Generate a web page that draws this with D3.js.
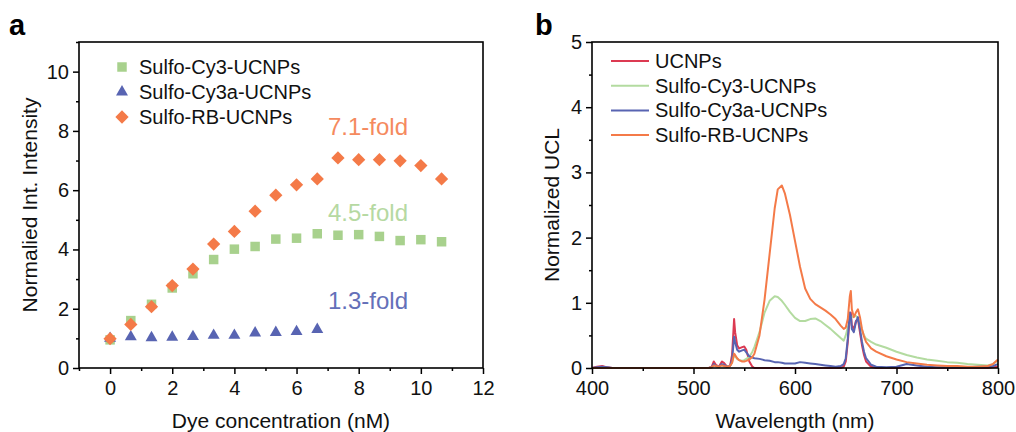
<!DOCTYPE html>
<html><head><meta charset="utf-8">
<script src="https://cdn.jsdelivr.net/npm/d3@7"></script>
<style>
body{margin:0;background:#fff;}
text{font-family:"Liberation Sans",Arial,sans-serif;}
</style></head>
<body>
<svg id="chart" width="1016" height="432"></svg>
<script>
// ---------- Panel a data ----------
const concX = [0, 0.667, 1.333, 2, 2.667, 3.333, 4, 4.667, 5.333, 6, 6.667, 7.333, 8, 8.667, 9.333, 10, 10.667];
const cy3Vals = [0.95, 1.6, 2.15, 2.7, 3.18, 3.66, 4.01, 4.1, 4.35, 4.38, 4.53, 4.48, 4.5, 4.44, 4.3, 4.33, 4.26];
const cy3aVals = [1.0, 1.05, 1.02, 1.04, 1.06, 1.1, 1.1, 1.18, 1.2, 1.23, 1.3];
const rbVals = [0.99, 1.47, 2.07, 2.78, 3.34, 4.18, 4.61, 5.29, 5.83, 6.18, 6.38, 7.09, 7.03, 7.03, 6.99, 6.83, 6.38];
const seriesA = ["Sulfo-Cy3-UCNPs", "Sulfo-Cy3a-UCNPs", "Sulfo-RB-UCNPs"];
const foldLabels = ["7.1-fold", "4.5-fold", "1.3-fold"];
const foldY = [7.85, 4.95, 2.0];
const aXTicks = [0, 2, 4, 6, 8, 10, 12];
const aYTicks = [0, 2, 4, 6, 8, 10];

// ---------- Panel b data ----------
const wl = [400,405,410,415,420,500,515,518,520,522,525,528,530,533,536,538,540,541,543,545,548,550,552,555,558,560,565,570,575,580,583,587,590,595,600,605,610,615,620,625,630,635,640,645,648,650,652,654,655,656,658,660,662,664,666,668,670,675,680,690,700,710,720,730,740,750,760,770,780,790,795,800];
const ucnp = [0,0.02,0.03,0.01,0,0,0,0.02,0.1,0.05,0.02,0.1,0.08,0.02,0.03,0.2,0.75,0.55,0.35,0.3,0.32,0.33,0.28,0.1,0.02,0,0,0,0,0,0,0,0,0,0,0,0,0,0,0,0,0,0,0,0.02,0.1,0.4,0.8,0.85,0.65,0.6,0.72,0.75,0.55,0.35,0.2,0.1,0.02,0,0,0,0,0,0,0,0,0,0,0,0,0.01,0.02];
const cy3 = [0,0,0,0,0,0,0,0.01,0.04,0.03,0.02,0.04,0.03,0.02,0.03,0.08,0.2,0.18,0.14,0.12,0.11,0.12,0.14,0.17,0.25,0.32,0.55,0.85,1.03,1.1,1.09,1.03,0.97,0.86,0.77,0.72,0.72,0.75,0.76,0.72,0.66,0.6,0.53,0.46,0.42,0.5,0.62,0.72,0.78,0.78,0.8,0.8,0.76,0.68,0.58,0.5,0.45,0.4,0.36,0.31,0.25,0.2,0.16,0.13,0.11,0.09,0.08,0.06,0.05,0.04,0.06,0.12];
const cy3a = [0,0.01,0.02,0.01,0,0,0,0.01,0.06,0.03,0.02,0.06,0.05,0.02,0.03,0.12,0.48,0.4,0.28,0.25,0.27,0.28,0.24,0.18,0.16,0.15,0.14,0.12,0.11,0.09,0.09,0.08,0.07,0.07,0.07,0.09,0.08,0.07,0.06,0.05,0.04,0.03,0.02,0.03,0.06,0.15,0.45,0.85,0.8,0.6,0.55,0.7,0.78,0.6,0.4,0.25,0.15,0.05,0.02,0.01,0.02,0.06,0.04,0.02,0.01,0.01,0.01,0.01,0.02,0.02,0.03,0.06];
const rb = [0,0,0,0,0,0,0,0.01,0.04,0.03,0.02,0.04,0.03,0.02,0.03,0.08,0.22,0.2,0.15,0.12,0.1,0.1,0.11,0.13,0.17,0.22,0.5,1.05,1.75,2.45,2.74,2.8,2.68,2.35,1.95,1.55,1.22,1.06,0.98,0.93,0.88,0.82,0.75,0.65,0.6,0.62,0.75,1.1,1.18,0.9,0.78,0.85,0.9,0.78,0.6,0.48,0.4,0.3,0.25,0.18,0.13,0.09,0.07,0.05,0.04,0.03,0.03,0.02,0.02,0.03,0.06,0.13];
const seriesB = ["UCNPs", "Sulfo-Cy3-UCNPs", "Sulfo-Cy3a-UCNPs", "Sulfo-RB-UCNPs"];
const bXTicks = [400, 500, 600, 700, 800];
const bYTicks = [0, 1, 2, 3, 4, 5];

// ---------- styles ----------
const cGreen = "#a8d18d", cBlue = "#5864b2", cOrange = "#f47a48", cRed = "#dc3a52";
const svg = d3.select("#chart");

function frameAxes(g, x, y, xMaj, xMin, yMaj, yMin, fmtX) {
  const [x0, x1] = x.range(), [y0, y1] = y.range();
  g.append("g").attr("transform", `translate(0,${y0})`)
    .call(d3.axisBottom(x).tickValues(xMaj).tickSize(6).tickPadding(7).tickFormat(fmtX || d3.format("d")));
  g.append("g").attr("transform", `translate(0,${y0})`)
    .call(d3.axisBottom(x).tickValues(xMin).tickSize(3).tickFormat(""));
  g.append("g").attr("transform", `translate(${x0},0)`)
    .call(d3.axisLeft(y).tickValues(yMaj).tickSize(6).tickPadding(4).tickFormat(d3.format("d")));
  g.append("g").attr("transform", `translate(${x0},0)`)
    .call(d3.axisLeft(y).tickValues(yMin).tickSize(3).tickFormat(""));
  g.selectAll(".domain").remove();
  g.selectAll(".tick line").attr("stroke", "#000").attr("stroke-width", 1.5);
  g.selectAll(".tick text").attr("font-size", 20).attr("fill", "#111")
    .attr("font-family", "Liberation Sans, Arial, sans-serif");
  g.append("rect").attr("x", x0).attr("y", y1).attr("width", x1 - x0).attr("height", y0 - y1)
    .attr("fill", "none").attr("stroke", "#000").attr("stroke-width", 1.6);
}

// ================= Panel a =================
const ga = svg.append("g");
const xa = d3.scaleLinear().domain([-1, 12]).range([79, 483]);
const ya = d3.scaleLinear().domain([0, 11]).range([368, 42]);

frameAxes(ga, xa, ya, aXTicks, [-1,1,3,5,7,9,11], aYTicks, [1,3,5,7,9,11]);

const sqSym = d3.symbol().type(d3.symbolSquare).size(90);
const diaSym = d3.symbol().type(d3.symbolSquare).size(88);
const triSym = d3.symbol().type(d3.symbolTriangle).size(62);

ga.append("g").selectAll("path").data(cy3Vals).join("path")
  .attr("d", sqSym).attr("fill", cGreen)
  .attr("transform", (d, i) => `translate(${xa(concX[i])},${ya(d)})`);
ga.append("g").selectAll("path").data(cy3aVals).join("path")
  .attr("d", triSym).attr("fill", cBlue)
  .attr("transform", (d, i) => `translate(${xa(concX[i])},${ya(d)})`);
ga.append("g").selectAll("path").data(rbVals).join("path")
  .attr("d", diaSym).attr("fill", cOrange)
  .attr("transform", (d, i) => `translate(${xa(concX[i])},${ya(d)}) rotate(45)`);

// legend a
const legA = ga.append("g");
const legSyms = [[sqSym, cGreen, 0], [triSym, cBlue, 0], [diaSym, cOrange, 45]];
seriesA.forEach((name, i) => {
  const cy = 67 + i * 25;
  legA.append("path").attr("d", legSyms[i][0]).attr("fill", legSyms[i][1])
    .attr("transform", `translate(122,${cy}) rotate(${legSyms[i][2]})`);
  legA.append("text").attr("x", 139).attr("y", cy + 7).attr("font-size", 20).attr("fill", "#111").text(name);
});

// fold labels
const foldColors = ["#f58a5e", "#b6d9a2", "#6470b9"];
foldLabels.forEach((t, i) => {
  ga.append("text").attr("x", 328).attr("y", ya(foldY[i])).attr("font-size", 24)
    .attr("fill", foldColors[i]).text(t);
});

ga.append("text").attr("transform", `translate(37,205) rotate(-90)`).attr("text-anchor", "middle")
  .attr("font-size", 21).attr("fill", "#111").text("Normalied Int. Intensity");
ga.append("text").attr("x", 281).attr("y", 428).attr("text-anchor", "middle")
  .attr("font-size", 21).attr("fill", "#111").text("Dye concentration (nM)");
ga.append("text").attr("x", 9).attr("y", 35).attr("font-size", 29).attr("font-weight", "bold").text("a");

// ================= Panel b =================
const gb = svg.append("g");
const xb = d3.scaleLinear().domain([400, 800]).range([592, 998]);
const yb = d3.scaleLinear().domain([0, 5]).range([368, 42]);

const line = d3.line().x((d, i) => xb(wl[i])).y(d => yb(d));
const specs = [[ucnp, cRed], [cy3, "#b3dba0"], [cy3a, cBlue], [rb, cOrange]];
specs.forEach(([vals, col]) => {
  gb.append("path").datum(vals).attr("d", line).attr("fill", "none")
    .attr("stroke", col).attr("stroke-width", 2).attr("stroke-linejoin", "round");
});

frameAxes(gb, xb, yb, bXTicks, [450, 550, 650, 750], bYTicks, [0.5,1.5,2.5,3.5,4.5]);

const legB = gb.append("g");
seriesB.forEach((name, i) => {
  const cy = 61 + i * 24.7;
  legB.append("line").attr("x1", 611).attr("x2", 649).attr("y1", cy).attr("y2", cy)
    .attr("stroke", specs[i][1]).attr("stroke-width", 2);
  legB.append("text").attr("x", 655).attr("y", cy + 7).attr("font-size", 20).attr("fill", "#111").text(name);
});

gb.append("text").attr("transform", `translate(559,205) rotate(-90)`).attr("text-anchor", "middle")
  .attr("font-size", 21).attr("fill", "#111").text("Normalized UCL");
gb.append("text").attr("x", 795).attr("y", 428).attr("text-anchor", "middle")
  .attr("font-size", 21).attr("fill", "#111").text("Wavelength (nm)");
gb.append("text").attr("x", 535).attr("y", 35).attr("font-size", 29).attr("font-weight", "bold").text("b");
</script>
</body></html>
